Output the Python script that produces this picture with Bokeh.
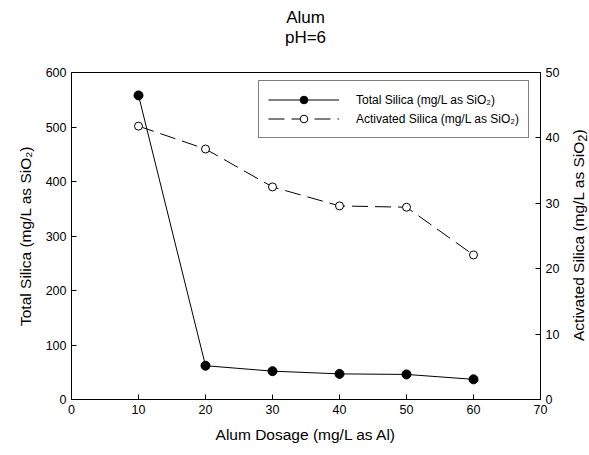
from bokeh.plotting import figure
from bokeh.models import Range1d, LinearAxis, Legend, LegendItem, FixedTicker, Div
from bokeh.layouts import column, row
from bokeh.embed import file_html
from bokeh.resources import INLINE

dosage = [10, 20, 30, 40, 50, 60]
total_silica = [558, 62, 52, 47, 46, 37]
activated_silica = [41.8, 38.3, 32.5, 29.6, 29.4, 22.1]
x_ticks = [0, 10, 20, 30, 40, 50, 60, 70]
left_ticks = [0, 100, 200, 300, 400, 500, 600]
right_ticks = [0, 10, 20, 30, 40, 50]
title_lines = ["Alum", "pH=6"]

FONT = "Liberation Sans"

p = figure(width=567, height=400, output_backend="svg", toolbar_location=None,
           x_range=Range1d(0, 70), y_range=Range1d(0, 600),
           min_border_left=71, min_border_right=27, min_border_top=22, min_border_bottom=51)
p.title.visible = False
p.grid.visible = False
p.outline_line_color = "black"
p.outline_line_width = 1
p.background_fill_color = "white"
p.border_fill_color = "white"

p.extra_y_ranges = {"act": Range1d(0, 50)}
right_axis = LinearAxis(y_range_name="act")
p.add_layout(right_axis, "right")

def style_axis(ax, ticks, label):
    ax.ticker = FixedTicker(ticks=ticks)
    ax.axis_label = label
    ax.axis_label_text_font = FONT
    ax.axis_label_text_font_size = "15.5px"
    ax.axis_label_text_font_style = "normal"
    ax.axis_label_text_color = "black"
    ax.axis_label_standoff = 9
    ax.major_label_text_font = FONT
    ax.major_label_text_font_size = "12.5px"
    ax.major_label_text_color = "black"
    ax.major_label_standoff = 5
    ax.major_tick_in = 5
    ax.major_tick_out = 0
    ax.minor_tick_in = 0
    ax.minor_tick_out = 0
    ax.axis_line_color = "black"
    ax.major_tick_line_color = "black"

style_axis(p.xaxis[0], x_ticks, "Alum Dosage (mg/L as Al)")
style_axis(p.yaxis[0], left_ticks, "Total Silica (mg/L as SiO\u2082)")
style_axis(right_axis, right_ticks, None)

l1 = p.line(dosage, total_silica, line_color="black", line_width=1)
s1 = p.scatter(dosage, total_silica, size=9, marker="circle", fill_color="black", line_color="black")
l2 = p.line(dosage, activated_silica, y_range_name="act", line_color="black", line_width=1, line_dash="16 7")
s2 = p.scatter(dosage, activated_silica, y_range_name="act", size=8, marker="circle",
               fill_color="white", line_color="black", line_width=1)

legend = Legend(items=[
    LegendItem(label="Total Silica (mg/L as SiO\u2082)", renderers=[l1, s1]),
    LegendItem(label="Activated Silica (mg/L as SiO\u2082)", renderers=[l2, s2]),
], location=(187, 261))
legend.label_text_font = FONT
legend.label_text_font_size = "12px"
legend.label_text_color = "black"
legend.glyph_width = 71
legend.glyph_height = 19
legend.label_height = 19
legend.label_width = 160
legend.label_standoff = 17
legend.spacing = 0
legend.padding = 9
legend.margin = 0
legend.border_line_color = "black"
legend.border_line_width = 1
legend.background_fill_alpha = 1
p.add_layout(legend, "center")

title_html = (
    '<div style="margin:8px 0 0 71px; width:469px; text-align:center; '
    "font-family:'Liberation Sans'; font-size:17px; line-height:20px; color:black;\">"
    + "<br>".join(title_lines) + "</div>"
)
title_div = Div(text=title_html, width=589, height=50, margin=0)

right_html = (
    '<div style="margin-top:22px; margin-left:2px; width:20px; height:327px; writing-mode:vertical-rl; '
    "transform:rotate(180deg); text-align:center; line-height:20px; white-space:nowrap; "
    "font-family:'Liberation Sans'; font-size:15.5px; color:black;\">"
    "Activated Silica (mg/L as SiO<sub>2</sub>)</div>"
)
right_div = Div(text=right_html, width=22, height=400, margin=0)

layout = column(title_div, row(p, right_div, spacing=0), spacing=0)

open("out.html", "w").write(file_html(layout, INLINE))
